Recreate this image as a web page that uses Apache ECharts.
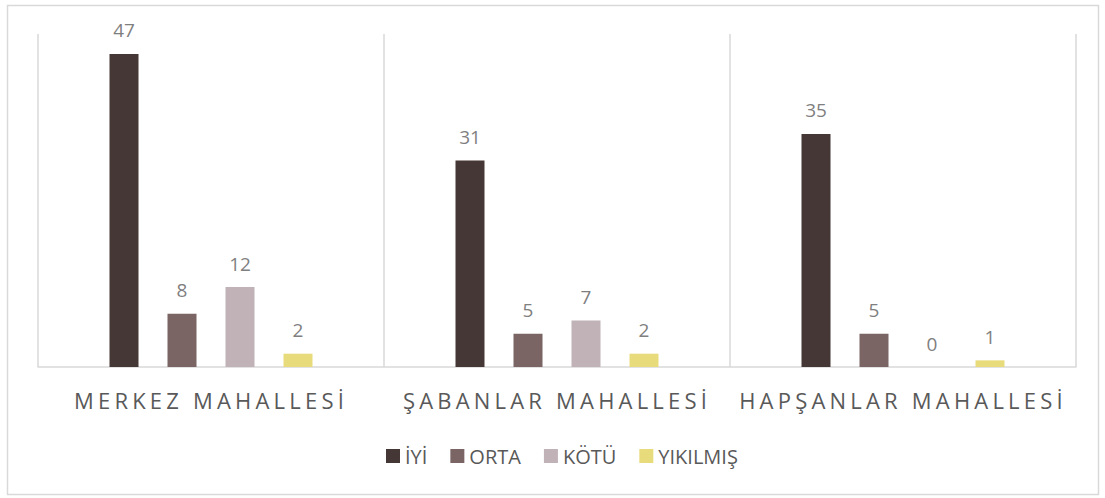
<!DOCTYPE html>
<html>
<head>
<meta charset="utf-8">
<script src="https://cdn.jsdelivr.net/npm/echarts@6/dist/echarts.min.js"></script>
<style>
  html, body { margin: 0; padding: 0; background: #fff; }
  #main { width: 1105px; height: 498px; }
  /* wide letter spacing for the category labels, like the original */
  #main text[style*="22px"] { letter-spacing: 4.2px; }
</style>
</head>
<body>
<div id="main"></div>
<script>
var categories = ['MERKEZ MAHALLESİ', 'ŞABANLAR MAHALLESİ', 'HAPŞANLAR MAHALLESİ'];
var seriesNames = ['İYİ', 'ORTA', 'KÖTÜ', 'YIKILMIŞ'];
var iyi = [47, 31, 35];
var orta = [8, 5, 5];
var kotu = [12, 7, 0];
var yikilmis = [2, 2, 1];
var colors = ['#453735', '#7a6464', '#c0b2b6', '#e8db7c'];

var chartDom = document.getElementById('main');
var myChart = echarts.init(chartDom, null, { renderer: 'svg' });

var values = [iyi, orta, kotu, yikilmis];
var series = seriesNames.map(function (name, i) {
  return {
    name: name,
    type: 'bar',
    data: values[i],
    barWidth: 29,
    barGap: '100%',
    itemStyle: { color: colors[i] },
    label: {
      show: true,
      position: 'top',
      distance: 14,
      color: '#7f7f7f',
      fontSize: 19,
      fontFamily: 'Open Sans'
    }
  };
});

var option = {
  animation: false,
  color: colors,
  graphic: [{
    type: 'rect',
    shape: { x: 7.5, y: 5.5, width: 1091, height: 489 },
    style: { fill: 'none', stroke: '#d9d9d9', lineWidth: 1.5 },
    silent: true
  }],
  legend: {
    top: 441,
    left: 381,
    itemWidth: 14,
    itemHeight: 14,
    itemGap: 23,
    icon: 'rect',
    textStyle: { color: '#595959', fontSize: 20, fontFamily: 'Open Sans' },
    data: seriesNames
  },
  grid: { left: 38, right: 29, top: 34, bottom: 131 },
  xAxis: {
    type: 'category',
    data: categories,
    axisLine: { lineStyle: { color: '#d9d9d9', width: 1.5 } },
    axisTick: { show: false },
    axisLabel: { color: '#595959', fontSize: 22, fontFamily: 'Open Sans', margin: 22 },
    splitLine: { show: true, lineStyle: { color: '#d9d9d9', width: 1.5 } }
  },
  yAxis: {
    type: 'value',
    min: 0,
    max: 50,
    axisLine: { show: false },
    axisTick: { show: false },
    axisLabel: { show: false },
    splitLine: { show: false }
  },
  series: series
};

option && myChart.setOption(option);
</script>
</body>
</html>
